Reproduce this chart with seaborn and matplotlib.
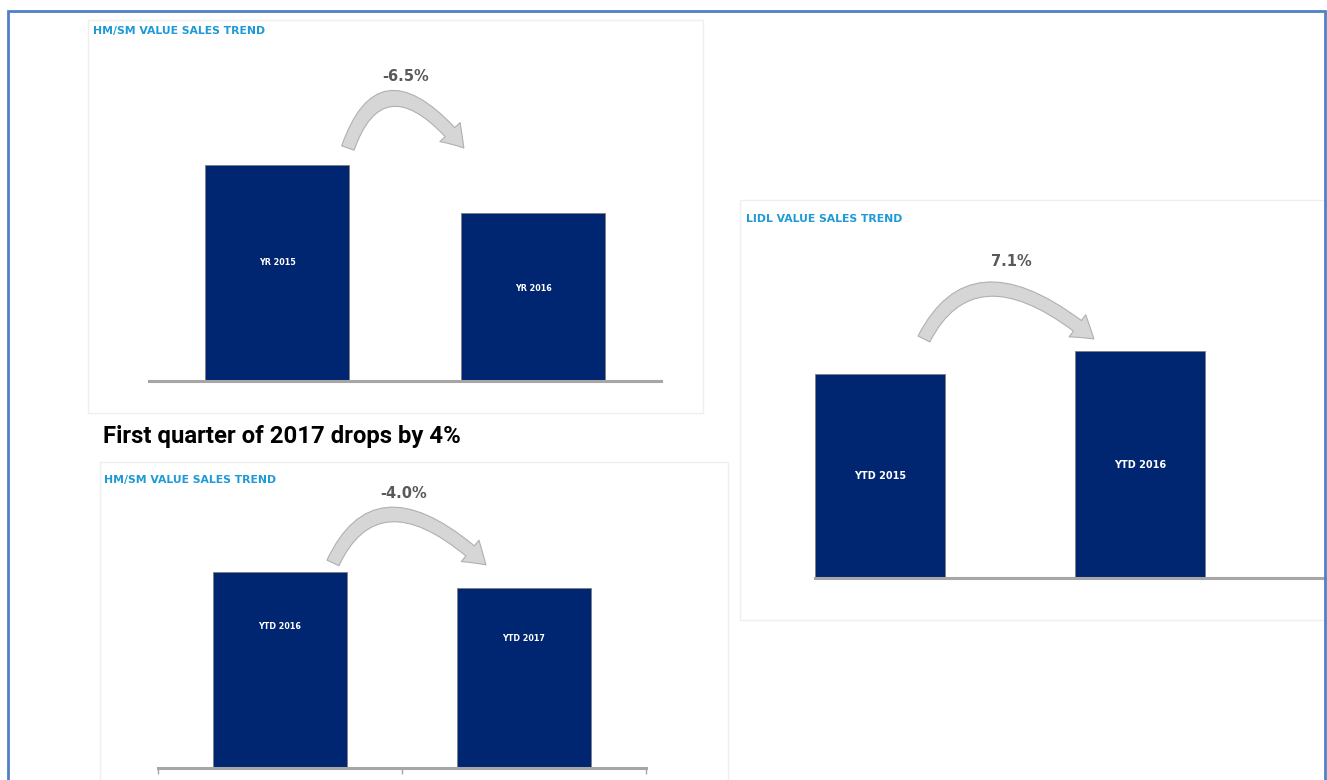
import matplotlib
matplotlib.use("Agg")
import matplotlib.pyplot as plt
from matplotlib.patches import FancyArrowPatch, Rectangle
from matplotlib.path import Path
import seaborn as sns
import pandas as pd

# ---------------- data (relative bar heights) ----------------
hm_year_categories = ["YR 2015", "YR 2016"]
hm_year_values = [100.0, 77.8]
hm_year_change = "-6.5%"

hm_ytd_categories = ["YTD 2016", "YTD 2017"]
hm_ytd_values = [100.0, 91.8]
hm_ytd_change = "-4.0%"

lidl_categories = ["YTD 2015", "YTD 2016"]
lidl_values = [89.9, 100.0]
lidl_change = "7.1%"

panel_title_hm = "HM/SM VALUE SALES TREND"
panel_title_lidl = "LIDL VALUE SALES TREND"
headline = "First quarter of 2017 drops by 4%"

# ---------------- style ----------------
sns.set_theme(style="white")
plt.rcParams["font.family"] = ["DejaVu Sans"]

NAVY = "#002571"
TITLE_BLUE = "#1f9ad6"
GREY_TXT = "#595959"
BASE_GREY = "#a6a6a6"

W, H = 1327, 780
fig = plt.figure(figsize=(W / 100, H / 100), dpi=100)
fig.patch.set_facecolor("white")


def ax_at(x0, y0, x1, y1):
    return fig.add_axes([x0 / W, 1 - y1 / H, (x1 - x0) / W, (y1 - y0) / H])


def rect_px(x0, y0, x1, y1, **kw):
    fig.add_artist(Rectangle((x0 / W, 1 - y1 / H), (x1 - x0) / W, (y1 - y0) / H,
                             transform=fig.transFigure, fill=False, **kw))


def draw_panel(ax, cats, vals, change, width, xlim, ytop, label_frac, label_size,
               arrow_from, arrow_to, rise, label_pos, end_ticks=False):
    df = pd.DataFrame({"cat": cats, "val": vals})
    sns.barplot(data=df, x="cat", y="val", color=NAVY, width=width, ax=ax,
                saturation=1, edgecolor="#7f7f7f", linewidth=0.6)
    ax.set_xlim(*xlim)
    ax.set_ylim(0, ytop)
    ax.set_xlabel("")
    ax.set_ylabel("")
    ax.set_yticks([])
    for s in ["top", "right", "left"]:
        ax.spines[s].set_visible(False)
    ax.spines["bottom"].set_color(BASE_GREY)
    ax.spines["bottom"].set_linewidth(2.2)
    ax.patch.set_alpha(0)
    if end_ticks:
        ax.set_xticks([-0.5, 0.5, 1.5])
        ax.set_xticklabels(["", "", ""])
        ax.tick_params(axis="x", direction="out", length=4, width=1,
                       color=BASE_GREY, bottom=True)
    else:
        ax.set_xticks([])
    for i, (c, v) in enumerate(zip(cats, vals)):
        ax.text(i, v * label_frac, c, color="white", ha="center", va="center",
                fontsize=label_size, fontweight="bold")
    # curved arrow: quadratic bezier, control point above and a bit right of the tail
    (x0, y0), (x2, y2) = arrow_from, arrow_to
    cx = x0 + 0.3 * (x2 - x0)
    cy = max(y0, y2) + 2 * rise
    path = Path([(x0, y0), (cx, cy), (x2, y2)], [Path.MOVETO, Path.CURVE3, Path.CURVE3])
    arr = FancyArrowPatch(path=path,
                          arrowstyle="simple,head_width=2.1,head_length=1.6,tail_width=1.0",
                          mutation_scale=9.5, shrinkA=0, shrinkB=0,
                          fc="#d6d6d6", ec="#b0b0b0", lw=0.8, clip_on=False)
    ax.add_patch(arr)
    ax.text(label_pos[0], label_pos[1], change, color=GREY_TXT, ha="center",
            va="center", fontsize=10.5, fontweight="bold")


# faint panel frames
rect_px(88, 20, 703, 413, ec="#efefef", lw=1)
rect_px(100, 462, 728, 790, ec="#efefef", lw=1)
rect_px(740, 200, 1340, 620, ec="#efefef", lw=1)

# ---------------- panel 1: HM/SM yearly ----------------
ax1 = ax_at(149, 45, 661, 381)
draw_panel(ax1, hm_year_categories, hm_year_values, hm_year_change,
           width=0.56, xlim=(-0.5, 1.5), ytop=155.6, label_frac=0.55, label_size=5.8,
           arrow_from=(0.277, 107.9), arrow_to=(0.73, 107.9), rise=23.0,
           label_pos=(0.504, 141.2))

# ---------------- panel 2: HM/SM YTD ----------------
ax2 = ax_at(158, 470, 646, 768)
draw_panel(ax2, hm_ytd_categories, hm_ytd_values, hm_ytd_change,
           width=0.553, xlim=(-0.5, 1.5), ytop=152.0, label_frac=0.72, label_size=5.8,
           arrow_from=(0.217, 104.6), arrow_to=(0.844, 103.6), rise=25.0,
           label_pos=(0.508, 139.8), end_ticks=True)

# ---------------- panel 3: LIDL ----------------
ax3 = ax_at(815, 240, 1325, 578)
draw_panel(ax3, lidl_categories, lidl_values, lidl_change,
           width=0.5, xlim=(-0.25, 1.712), ytop=148.9, label_frac=0.5, label_size=7,
           arrow_from=(0.169, 105.3), arrow_to=(0.823, 105.3), rise=22.0,
           label_pos=(0.504, 139.6))

# ---------------- texts ----------------
for x, y, t in [(93, 31, panel_title_hm), (104, 480, panel_title_hm),
                (746, 219, panel_title_lidl)]:
    fig.text(x / W, 1 - y / H, t, color=TITLE_BLUE, fontsize=7.8,
             fontweight="bold", ha="left", va="center")
fig.text(103 / W, 1 - 437 / H, headline, color="black", fontsize=17.2,
         fontweight="bold", ha="left", va="center", family=["Roboto", "DejaVu Sans"])

# outer blue frame
rect_px(8, 11, 1325, 800, ec="#4f81c7", lw=2)

fig.savefig("out.png", dpi=100, facecolor="white")
